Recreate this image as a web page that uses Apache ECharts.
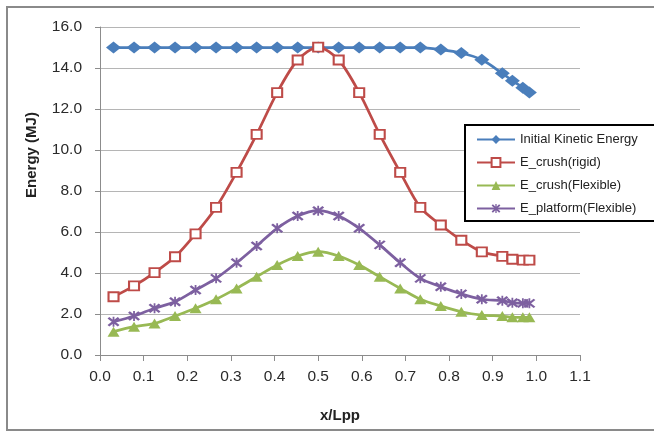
<!DOCTYPE html>
<html>
<head>
<meta charset="utf-8">
<script src="https://cdn.jsdelivr.net/npm/echarts@6/dist/echarts.min.js"></script>
<style>
html,body{margin:0;padding:0;background:#fff;}
#chart{width:654px;height:434px;}
</style>
</head>
<body>
<div id="chart"></div>
<script>
const xVals = [0.031, 0.078, 0.125, 0.172, 0.219, 0.266, 0.313, 0.359, 0.406, 0.453, 0.500, 0.547, 0.594, 0.641, 0.688, 0.734, 0.781, 0.828, 0.875, 0.922, 0.945, 0.969, 0.984];
const kinetic = [15.0, 15.0, 15.0, 15.0, 15.0, 15.0, 15.0, 15.0, 15.0, 15.0, 15.0, 15.0, 15.0, 15.0, 15.0, 15.0, 14.9, 14.73, 14.4, 13.74, 13.38, 13.04, 12.8];
const crushRigid = [2.84, 3.37, 4.02, 4.79, 5.91, 7.2, 8.91, 10.76, 12.8, 14.39, 15.02, 14.39, 12.8, 10.76, 8.91, 7.2, 6.34, 5.6, 5.03, 4.81, 4.67, 4.63, 4.63];
const crushFlex = [1.14, 1.38, 1.54, 1.9, 2.28, 2.72, 3.25, 3.82, 4.39, 4.83, 5.04, 4.83, 4.39, 3.82, 3.25, 2.72, 2.39, 2.11, 1.95, 1.9, 1.84, 1.84, 1.84];
const platformFlex = [1.62, 1.9, 2.28, 2.6, 3.17, 3.74, 4.5, 5.32, 6.18, 6.78, 7.04, 6.78, 6.18, 5.37, 4.5, 3.74, 3.33, 2.98, 2.72, 2.65, 2.55, 2.52, 2.52];
const seriesNames = ['Initial Kinetic Energy', 'E_crush(rigid)', 'E_crush(Flexible)', 'E_platform(Flexible)'];
const xTicks = {min: 0, max: 1.1, step: 0.1};
const yTicks = {min: 0, max: 16, step: 2};

const zip = ys => xVals.map((x, i) => [x, ys[i]]);
const asterisk = 'path://M-0.7,-5L0.7,-5L0.7,5L-0.7,5Z M-4.7,-3.3L-3.3,-4.7L4.7,3.3L3.3,4.7Z M3.3,-4.7L4.7,-3.3L-3.3,4.7L-4.7,3.3Z';
const FONT = 'Liberation Sans';

const chart = echarts.init(document.getElementById('chart'), null, {renderer: 'canvas'});
chart.setOption({
  animation: false,
  backgroundColor: '#fff',
  textStyle: {fontFamily: FONT},
  grid: {left: 100, right: 74, top: 27, bottom: 79, containLabel: false},
  xAxis: {
    type: 'value', min: xTicks.min, max: xTicks.max, interval: xTicks.step,
    name: 'x/Lpp', nameLocation: 'middle', nameGap: 53,
    nameTextStyle: {fontFamily: FONT, fontWeight: 'bold', fontSize: 15, color: '#222'},
    axisLine: {lineStyle: {color: '#8c8c8c', width: 1}},
    axisTick: {show: true, inside: false, length: 6, lineStyle: {color: '#8c8c8c'}},
    axisLabel: {formatter: v => v.toFixed(1), fontSize: 15.5, color: '#2a2a2a', margin: 14, fontFamily: FONT},
    splitLine: {show: false}
  },
  yAxis: {
    type: 'value', min: yTicks.min, max: yTicks.max, interval: yTicks.step,
    axisLine: {show: true, lineStyle: {color: '#8c8c8c', width: 1}},
    axisTick: {show: true, inside: false, length: 5, lineStyle: {color: '#8c8c8c'}},
    axisLabel: {formatter: v => v.toFixed(1), fontSize: 15.5, color: '#2a2a2a', margin: 18, fontFamily: FONT},
    splitLine: {show: true, lineStyle: {color: '#b5b5b5', width: 1}}
  },
  legend: {
    left: 468, top: 130, orient: 'vertical', itemGap: 10, itemWidth: 38, itemHeight: 11,
    padding: [3, 4, 3, 8], z: 10,
    textStyle: {fontFamily: FONT, fontSize: 13, color: '#222'},
    data: seriesNames
  },
  graphic: [
    {type: 'rect', z: 8, shape: {x: 465, y: 125, width: 200, height: 96}, style: {fill: '#fff', stroke: '#000', lineWidth: 2}},
    {type: 'rect', z: 100, shape: {x: 7, y: 7, width: 652, height: 423}, style: {fill: 'none', stroke: '#8a8a8a', lineWidth: 2}},
    {type: 'text', z: 10, x: 32, y: 155, rotation: Math.PI / 2,
     style: {text: 'Energy (MJ)', textAlign: 'center', textVerticalAlign: 'middle', font: 'bold 15px "Liberation Sans"', fill: '#222'}}
  ],
  series: [
    {name: seriesNames[0], type: 'line', data: zip(kinetic), smooth: 0.3,
     symbol: 'diamond', symbolSize: [15, 12],
     lineStyle: {color: '#4a7ebb', width: 2.75}, itemStyle: {color: '#4a7ebb'}, z: 3},
    {name: seriesNames[1], type: 'line', data: zip(crushRigid), smooth: 0.3,
     symbol: 'rect', symbolSize: [10, 9],
     lineStyle: {color: '#be4b48', width: 2.75}, itemStyle: {color: '#fff', borderColor: '#be4b48', borderWidth: 2}, z: 4},
    {name: seriesNames[2], type: 'line', data: zip(crushFlex), smooth: 0.3,
     symbol: 'triangle', symbolSize: [12, 10],
     lineStyle: {color: '#98b954', width: 2.75}, itemStyle: {color: '#98b954'}, z: 3},
    {name: seriesNames[3], type: 'line', data: zip(platformFlex), smooth: 0.3,
     symbol: asterisk, symbolSize: [12, 10],
     lineStyle: {color: '#7d60a0', width: 2.75}, itemStyle: {color: '#7d60a0'}, z: 3}
  ]
});
</script>
</body>
</html>
